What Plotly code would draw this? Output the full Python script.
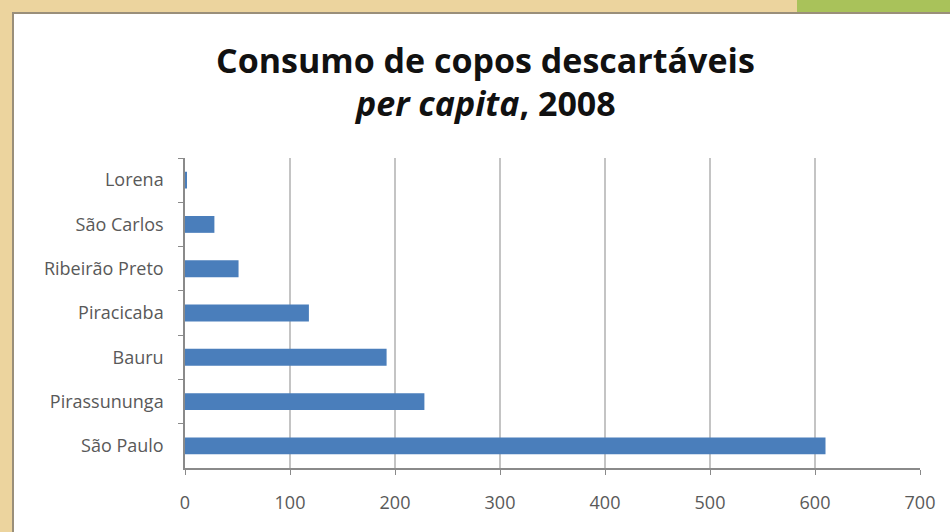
import plotly.graph_objects as go

cities = ["Lorena", "São Carlos", "Ribeirão Preto", "Piracicaba", "Bauru", "Pirassununga", "São Paulo"]
values = [1, 28, 51, 118, 192, 228, 610]
x_ticks = [0, 100, 200, 300, 400, 500, 600, 700]
title_line1 = "<b>Consumo de copos descartáveis</b>"
title_line2 = "<b><i>per capita</i>, 2008</b>"

W, H = 950, 532
L, R, T, B = 185, 30, 158, 64
pw, ph = W - L - R, H - T - B

def px(x):
    return (x - L) / pw

def py(y):
    return (H - B - y) / ph

fig = go.Figure()
fig.add_trace(go.Bar(
    y=cities, x=values, orientation="h",
    marker=dict(color="#4a7ebb", line=dict(width=0)),
    width=0.38,
))

shapes = [
    dict(type="rect", xref="paper", yref="paper", x0=px(13), x1=px(W + 5), y0=py(H + 5), y1=py(13),
         fillcolor="white", line=dict(color="#9a8f7a", width=2), layer="below"),
    dict(type="rect", xref="paper", yref="paper", x0=px(797), x1=px(W + 5), y0=py(12), y1=py(-5),
         fillcolor="#a9c25a", line=dict(width=0), layer="below"),
]

title_font = dict(family="Open Sans, sans-serif", size=34, color="#111111")
annotations = [
    dict(text=title_line1, xref="paper", yref="paper", x=px(485), y=py(60), xanchor="center",
         yanchor="middle", showarrow=False, font=title_font),
    dict(text=title_line2, xref="paper", yref="paper", x=px(485), y=py(103), xanchor="center",
         yanchor="middle", showarrow=False, font=title_font),
]

fig.update_layout(
    width=W, height=H,
    margin=dict(l=L, r=R, t=T, b=B),
    paper_bgcolor="#ecd49e",
    plot_bgcolor="white",
    shapes=shapes,
    annotations=annotations,
    showlegend=False,
    font=dict(family="Open Sans, sans-serif", size=18, color="#595959"),
    xaxis=dict(
        range=[0, 700], tickvals=x_ticks, showgrid=True, gridcolor="#c4c4c4", gridwidth=1.5,
        showline=True, linecolor="#8a8a8a", linewidth=1.5, zeroline=False,
        ticks="outside", ticklen=5, tickcolor="#8a8a8a", ticklabelstandoff=13,
    ),
    yaxis=dict(
        autorange="reversed", showgrid=False, showline=True, linecolor="#8a8a8a", linewidth=1.5,
        ticks="outside", ticklen=5, tickcolor="#8a8a8a", tickson="boundaries", ticklabelstandoff=16,
    ),
)

fig.write_html("out.html", config={"displayModeBar": False},
               post_script="document.body.style.margin='0';")
